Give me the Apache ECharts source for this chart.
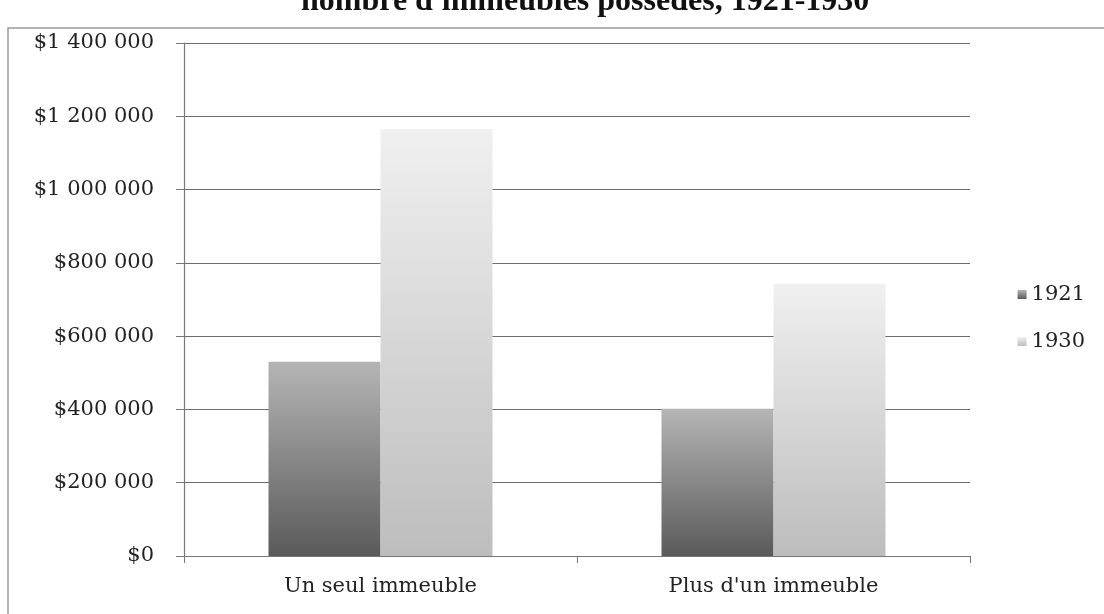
<!DOCTYPE html>
<html>
<head>
<meta charset="utf-8">
<script src="https://cdn.jsdelivr.net/npm/echarts@6/dist/echarts.min.js"></script>
<style>
  html, body { margin: 0; padding: 0; background: #fff; }
  #chart { width: 1104px; height: 614px; }
</style>
</head>
<body>
<div id="chart"></div>
<script>
const categories = ["Un seul immeuble", "Plus d'un immeuble"];
const seriesNames = ["1921", "1930"];
const values1921 = [530000, 402000];
const values1930 = [1165000, 743000];
const titleText = "nombre d'immeubles possédés, 1921-1930";

const fontFamily = "'DejaVu Serif', serif";

// format "$1 400 000"
const money = (v) => "$" + String(v).replace(/\B(?=(\d{3})+(?!\d))/g, " ");

const grad = (top, bottom) => new echarts.graphic.LinearGradient(0, 0, 0, 1, [
    { offset: 0, color: top },
    { offset: 1, color: bottom },
]);

const chart = echarts.init(document.getElementById("chart"), null, { renderer: "canvas" });
chart.setOption({
    animation: false,
    backgroundColor: "#fff",
    title: {
        text: titleText,
        left: 296,
        top: -19,
        textStyle: {
            fontFamily: "'Liberation Serif', serif",
            fontWeight: "bold",
            fontSize: 32,
            color: "#111",
        },
    },
    graphic: [
        {
            type: "polyline",
            shape: { points: [[8, 614], [8, 28], [1104, 28]] },
            style: { stroke: "#9a9a9a", lineWidth: 1.5, fill: null },
            silent: true,
        },
    ],
    legend: {
        orient: "vertical",
        right: 14,
        top: 279,
        itemWidth: 9,
        itemHeight: 9,
        itemGap: 26,
        textStyle: { fontFamily, fontSize: 21, color: "#222" },
        data: [
            { name: "1921", icon: "rect" },
            { name: "1930", icon: "rect" },
        ],
    },
    grid: {
        left: 184,
        right: 134,
        top: 43,
        bottom: 58,
    },
    xAxis: {
        type: "category",
        data: categories,
        axisLine: { lineStyle: { color: "#777", width: 1.2 } },
        axisTick: { show: true, length: 7, lineStyle: { color: "#777" } },
        axisLabel: { fontFamily, fontSize: 21, color: "#222", margin: 20 },
    },
    yAxis: {
        type: "value",
        min: 0,
        max: 1400000,
        interval: 200000,
        axisLine: { show: true, lineStyle: { color: "#777", width: 1.2 } },
        axisTick: { show: true, length: 8, lineStyle: { color: "#777" } },
        axisLabel: {
            fontFamily,
            fontSize: 21,
            color: "#222",
            margin: 30,
            formatter: money,
        },
        splitLine: { lineStyle: { color: "#6e6e6e", width: 1.2 } },
    },
    series: [
        {
            name: seriesNames[0],
            type: "bar",
            data: values1921,
            barGap: "0%",
            barCategoryGap: "43%",
            itemStyle: { color: grad("#b5b5b5", "#5a5a5a") },
        },
        {
            name: seriesNames[1],
            type: "bar",
            data: values1930,
            itemStyle: { color: grad("#f0f0f0", "#bdbdbd") },
        },
    ],
});
</script>
</body>
</html>
